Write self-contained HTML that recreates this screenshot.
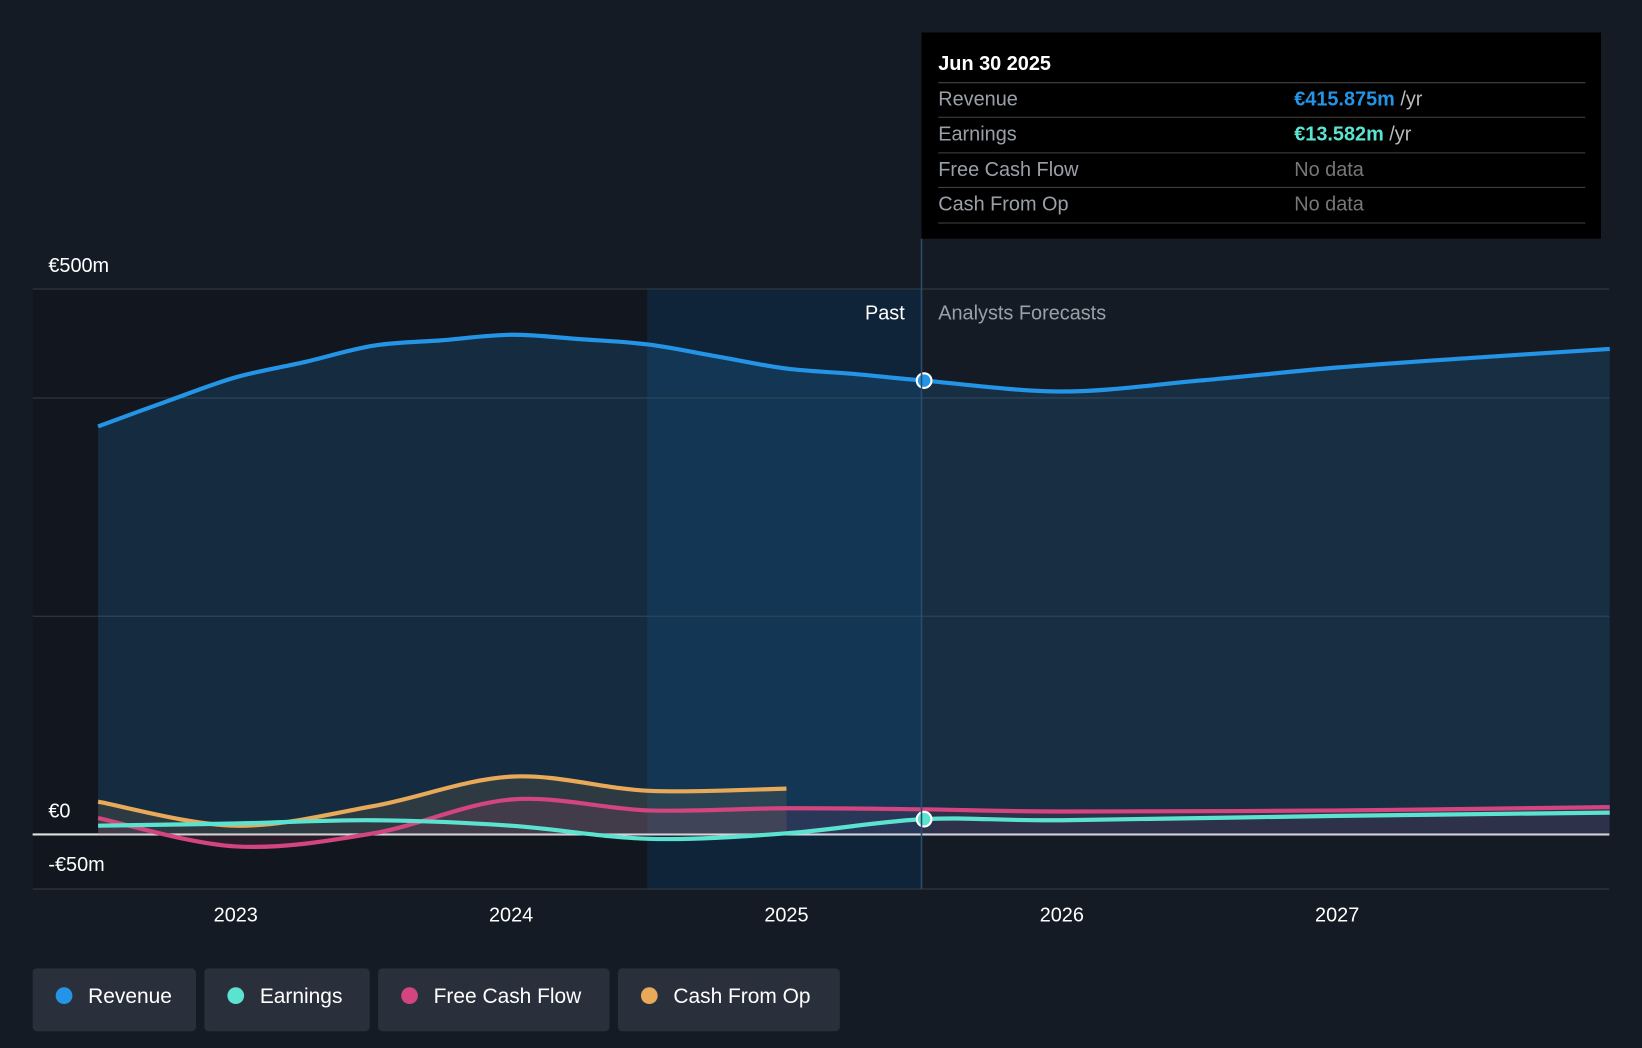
<!DOCTYPE html>
<html><head><meta charset="utf-8"><style>
html,body{margin:0;padding:0;background:#151b24;}
svg{display:block;font-family:"Liberation Sans",sans-serif;}
</style></head><body>
<svg id="chart" width="1642" height="1048" viewBox="0 0 1568 1001" xmlns="http://www.w3.org/2000/svg">
<rect x="0" y="0" width="1568" height="1001" fill="#151b24"/>
<rect x="31" y="276" width="587" height="573" fill="#12171f"/>
<rect x="618" y="276" width="262" height="573" fill="#0f2438"/>
<g id="grid"></g>
<g id="areas"></g>
<g id="lines"></g>
<line x1="880" y1="228" x2="880" y2="849" stroke="#2a4d6b" stroke-width="1.5"/>
<text x="864" y="305" fill="#fff" font-size="19" text-anchor="end">Past</text>
<text x="896" y="305" fill="#9aa0a8" font-size="19">Analysts Forecasts</text>
<g id="yl"></g>
<g id="xl"></g>
<g>
<rect x="880" y="31" width="649" height="197" fill="#000"/>
<text x="896" y="67" fill="#fff" font-size="19" font-weight="bold">Jun 30 2025</text>
<line x1="896" y1="79" x2="1514" y2="79" stroke="#444"/>
<text x="896" y="101" fill="#9aa0a8" font-size="19">Revenue</text>
<text x="1236" y="101" font-size="19" font-weight="bold" fill="#2394e6">€415.875m <tspan fill="#bbb" font-weight="normal">/yr</tspan></text>
<line x1="896" y1="112" x2="1514" y2="112" stroke="#444"/>
<text x="896" y="134" fill="#9aa0a8" font-size="19">Earnings</text>
<text x="1236" y="134" font-size="19" font-weight="bold" fill="#5ce3d0">€13.582m <tspan fill="#bbb" font-weight="normal">/yr</tspan></text>
<line x1="896" y1="146" x2="1514" y2="146" stroke="#444"/>
<text x="896" y="168" fill="#9aa0a8" font-size="19">Free Cash Flow</text>
<text x="1236" y="168" fill="#777" font-size="19">No data</text>
<line x1="896" y1="179" x2="1514" y2="179" stroke="#444"/>
<text x="896" y="201" fill="#9aa0a8" font-size="19">Cash From Op</text>
<text x="1236" y="201" fill="#777" font-size="19">No data</text>
<line x1="896" y1="213" x2="1514" y2="213" stroke="#444"/>
</g>
<g id="legend"></g>
</svg>
<script>
const revYears=[2022.5,2022.75,2023,2023.25,2023.5,2023.75,2024,2024.25,2024.5,2024.75,2025,2025.25,2025.5,2026,2026.5,2027,2027.5,2027.99];
const revenue=[374,397,419,433,448,453,458,454,449,438,427,422,416,406,416,428,437,445];
const earnYears=[2022.5,2023,2023.5,2024,2024.5,2025,2025.5,2026,2027,2027.99];
const earnings=[8,10,13,8,-4,1,14,13,17,20];
const fcfYears=[2022.5,2023,2023.5,2024,2024.5,2025,2025.5,2026,2027,2027.99];
const fcf=[15,-11,1,32,22,24,23,21,22,25];
const cfoYears=[2022.5,2023,2023.5,2024,2024.5,2025];
const cfo=[30,8,26,53,40,42];
const yTicks=[500,0,-50];
const yTickLabels=["€500m","€0","-€50m"];
const gridVals=[500,400,200,0,-50];
const xTicks=[2023,2024,2025,2026,2027];
const X=t=>225+(t-2023)*263;
const Y=v=>797-v*1.042;
const NS="http://www.w3.org/2000/svg";
function mk(tag,attrs,parent){const e=document.createElementNS(NS,tag);for(const k in attrs)e.setAttribute(k,attrs[k]);document.getElementById(parent).appendChild(e);return e;}
function path(xs,vs){const p=xs.map((t,i)=>[X(t),Y(vs[i])]);let d="M"+p[0][0]+","+p[0][1];
for(let i=0;i<p.length-1;i++){const p0=p[i-1]||p[i],p1=p[i],p2=p[i+1],p3=p[i+2]||p2;
d+=" C"+(p1[0]+(p2[0]-p0[0])/6)+","+(p1[1]+(p2[1]-p0[1])/6)+" "+(p2[0]-(p3[0]-p1[0])/6)+","+(p2[1]-(p3[1]-p1[1])/6)+" "+p2[0]+","+p2[1];}return d;}
gridVals.forEach(v=>{const l=mk("line",{x1:31,x2:1537,y1:Y(v),y2:Y(v),stroke:v===0?"#e0e0e0":"#2e3642","stroke-width":v===0?2:1.2},"grid");

});
yTicks.forEach((v,i)=>{const t=mk("text",{x:46,y:Y(v)+(v===-50?-17:-16),fill:"#fff","font-size":19},"yl");t.textContent=yTickLabels[i];

});
xTicks.forEach(v=>{const t=mk("text",{x:X(v),y:880,fill:"#fff","font-size":19,"text-anchor":"middle"},"xl");t.textContent=v;

});
function area(xs,vs,fill,name){const d=path(xs,vs)+" L"+X(xs[xs.length-1])+","+Y(0)+" L"+X(xs[0])+","+Y(0)+"Z";const a=mk("path",{d:d,fill:fill},"areas");

}
area(revYears,revenue,"rgba(35,148,230,0.16)","revenue-area");
area(cfoYears,cfo,"rgba(232,169,88,0.12)","cfo-area");
area(fcfYears,fcf,"rgba(210,70,130,0.12)","fcf-area");
function line(xs,vs,c,name){const l=mk("path",{d:path(xs,vs),fill:"none",stroke:c,"stroke-width":4,"stroke-linecap":"butt"},"lines");

}
line(cfoYears,cfo,"#e8a958","cash-from-op-line");
line(fcfYears,fcf,"#d2457f","free-cash-flow-line");
line(earnYears,earnings,"#5ce3d0","earnings-line");
line(revYears,revenue,"#2394e6","revenue-line");
const m1=mk("circle",{cx:X(2025.5),cy:Y(revenue[12]),r:7,fill:"#2394e6",stroke:"#fff","stroke-width":2},"lines");


const m2=mk("circle",{cx:X(2025.5),cy:Y(earnings[6]),r:7,fill:"#5ce3d0",stroke:"#fff","stroke-width":2},"lines");


const leg=[["Revenue","#2394e6",31,156],["Earnings","#5ce3d0",195,158],["Free Cash Flow","#d2457f",361,221],["Cash From Op","#e8a958",590,212]];
leg.forEach(([n,c,x,w])=>{const g=mk("g",{},"legend");


const r=document.createElementNS(NS,"rect");r.setAttribute("x",x);r.setAttribute("y",925);r.setAttribute("width",w);r.setAttribute("height",60);r.setAttribute("rx",4);r.setAttribute("fill","#2a303b");g.appendChild(r);
const ci=document.createElementNS(NS,"circle");ci.setAttribute("cx",x+30);ci.setAttribute("cy",951);ci.setAttribute("r",8);ci.setAttribute("fill",c);g.appendChild(ci);
const t=document.createElementNS(NS,"text");t.setAttribute("x",x+53);t.setAttribute("y",958);t.setAttribute("fill","#fff");t.setAttribute("font-size",20);t.textContent=n;g.appendChild(t);});
</script>
</body></html>
